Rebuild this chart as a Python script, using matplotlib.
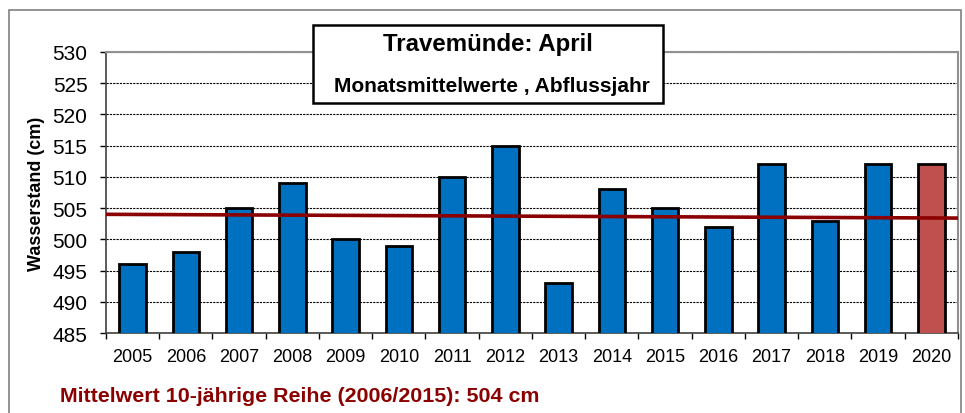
import matplotlib
matplotlib.use("Agg")
import matplotlib.pyplot as plt
import matplotlib.patches as patches
import numpy as np

plt.rcParams['font.family'] = ['Liberation Sans', 'DejaVu Sans']

years = ['2005', '2006', '2007', '2008', '2009', '2010', '2011', '2012',
         '2013', '2014', '2015', '2016', '2017', '2018', '2019', '2020']
values = [496, 498, 505, 509, 500, 499, 510, 515, 493, 508, 505, 502, 512, 503, 512, 512]
colors = ['#0070c0'] * 15 + ['#c0504d']
mean_line = [504.0, 503.4]

fig = plt.figure(figsize=(9.65, 4.14), dpi=100)
ax = fig.add_axes([0.1098, 0.1932, 0.8829, 0.679])

x = np.arange(len(years))
ax.bar(x, values, width=0.5, color=colors, edgecolor='black', linewidth=2, zorder=3)
ax.plot([-0.5, len(years) - 0.5], mean_line, color='#8b0000', linewidth=2.6, zorder=4)

ax.set_xlim(-0.5, len(years) - 0.5)
ax.set_ylim(485, 530)
ax.set_yticks(np.arange(485, 531, 5))
ax.tick_params(axis='y', labelsize=15, length=4.3, width=1, direction='out', pad=9)
ax.set_xticks(x)
ax.set_xticklabels(years, fontsize=13)
ax.tick_params(axis='x', length=0, pad=11)
ax.set_xticks(np.arange(-0.5, len(years), 1), minor=True)
ax.tick_params(axis='x', which='minor', length=4.3, width=1, direction='out')
ax.grid(axis='y', linestyle=(0, (2, 1)), color='black', linewidth=0.8, zorder=0)
ax.set_ylabel('Wasserstand (cm)', fontsize=13, fontweight='bold', labelpad=5)

for s in ['top', 'right']:
    ax.spines[s].set_color('#909090')
    ax.spines[s].set_linewidth(1.5)
for s in ['left', 'bottom']:
    ax.spines[s].set_color('#404040')
    ax.spines[s].set_linewidth(1.2)

# title box
box = patches.Rectangle((313 / 965, 1 - 104 / 414), 350 / 965, 78 / 414,
                        transform=fig.transFigure, facecolor='white',
                        edgecolor='black', linewidth=1.8, zorder=10)
fig.patches.append(box)
fig.text(488 / 965, 1 - 45 / 414, 'Travemünde: April', fontsize=17.3,
         fontweight='bold', ha='center', va='center', zorder=11)
fig.text(492 / 965, 1 - 87 / 414, 'Monatsmittelwerte , Abflussjahr', fontsize=15,
         fontweight='bold', ha='center', va='center', zorder=11)

# outer border
border = patches.Rectangle((9 / 965, -0.05), 952 / 965, 1.05 - 11 / 414,
                           transform=fig.transFigure, facecolor='none',
                           edgecolor='#808080', linewidth=1.2)
fig.patches.append(border)

fig.text(60 / 965, 1 - 397 / 414, 'Mittelwert 10-jährige Reihe (2006/2015): 504 cm',
         fontsize=15.4, fontweight='bold', color='#8b0000', ha='left', va='center')

fig.savefig('out.png', dpi=100)
